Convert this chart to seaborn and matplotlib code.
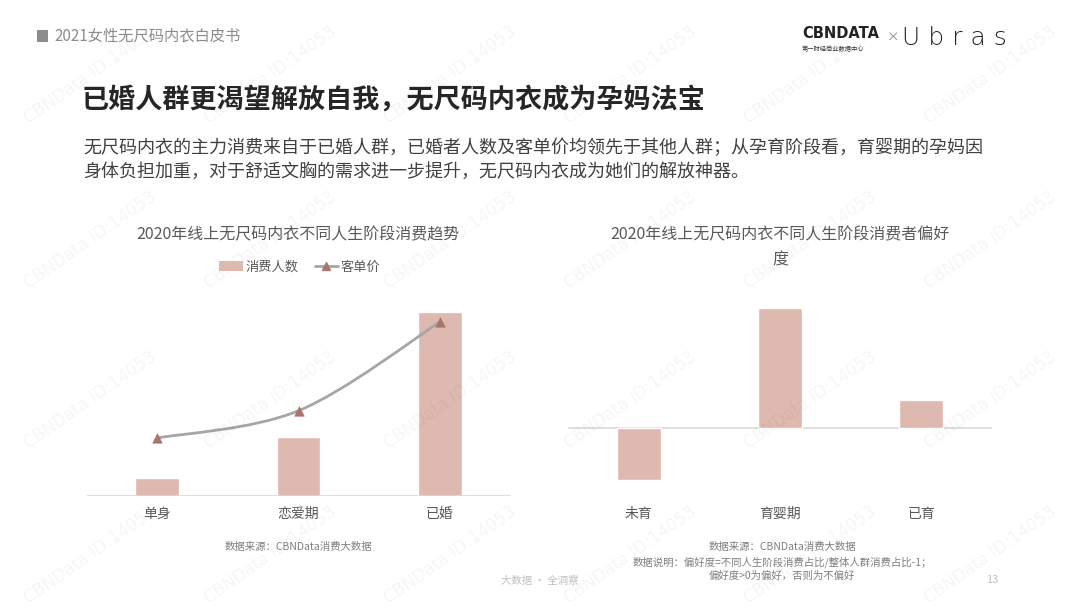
import numpy as np
import pandas as pd
import matplotlib
matplotlib.use("Agg")
import matplotlib.pyplot as plt
import seaborn as sns
from matplotlib.patches import Rectangle, Patch, PathPatch
from matplotlib.lines import Line2D
from matplotlib.path import Path

# --- data ---
stages_left = ["单身", "恋爱期", "已婚"]
consumers = [0.10, 0.32, 1.00]        # 消费人数 (relative)
unit_price = [1.00, 1.47, 3.00]       # 客单价 (relative)

stages_right = ["未育", "育婴期", "已育"]
preference = [-0.26, 0.60, 0.14]      # 偏好度

BAR = "#DEB9AF"
LINE = "#A6A6A6"
MARK = "#A9766D"
TXT = "#595959"

sns.set_theme(style="white")
plt.rcParams['font.family'] = ['Noto Sans CJK SC', 'DejaVu Sans']

W, H = 1080, 608
fig = plt.figure(figsize=(W / 100, H / 100), dpi=100)
fig.patch.set_facecolor("white")

def fx(px): return px / W
def fy(py): return 1 - py / H

# --- watermarks ---
for yy in [75, 240, 400, 555]:
    for xx in [90, 270, 450, 630, 810, 990]:
        fig.text(fx(xx), fy(yy), "CBNData ID:14053", rotation=35, ha="center", va="center",
                 fontsize=12, color="#000000", alpha=0.04, family="DejaVu Sans", zorder=0)

# --- header ---
fig.patches.append(Rectangle((fx(37), fy(42)), fx(11), 12 / H, transform=fig.transFigure,
                             color="#8C8C8C", lw=0))
fig.text(fx(54), fy(36), "2021女性无尺码内衣白皮书", fontsize=11, color="#8C8C8C", va="center")
fig.text(fx(802), fy(33), "CBNDATA", fontsize=10.5, fontweight="bold", color="#222222",
         va="center", family="DejaVu Sans")
fig.text(fx(802), fy(49), "第一财经商业数据中心", fontsize=4.5, color="#333333", va="center")
fig.text(fx(887), fy(38), "×", fontsize=9, color="#888888", va="center")
fig.text(fx(902), fy(38), "U b r a s", fontsize=18, color="#222222", va="center",
         family="DejaVu Sans", fontweight="light")

fig.text(fx(82), fy(100), "已婚人群更渴望解放自我，无尺码内衣成为孕妈法宝", fontsize=19.5,
         fontweight="bold", color="#262626", va="center")
fig.text(fx(83), fy(148), "无尺码内衣的主力消费来自于已婚人群，已婚者人数及客单价均领先于其他人群；从孕育阶段看，育婴期的孕妈因",
         fontsize=13, color="#404040", va="center")
fig.text(fx(83), fy(172), "身体负担加重，对于舒适文胸的需求进一步提升，无尺码内衣成为她们的解放神器。",
         fontsize=13, color="#404040", va="center")

# --- left chart ---
axL = fig.add_axes([fx(86.5), 1 - 496 / H, fx(424), 206 / H])
dfL = pd.DataFrame({"stage": stages_left, "consumers": consumers, "price": unit_price})
sns.barplot(data=dfL, x="stage", y="consumers", color=BAR, width=0.31, saturation=1, ax=axL)
axL.set_ylim(0, max(consumers) * 1.12)
axL.set_xlim(-0.5, 2.5)
axL.axhline(0, color="#D9D9D9", lw=1.2)

axR2 = axL.twinx()
axR2.set_ylim(0, max(unit_price) * 206 / 174)
# smooth line (Catmull-Rom style bezier through the data points)
xs = np.arange(len(unit_price), dtype=float)
ys = np.array(unit_price)
verts = [(xs[0], ys[0])]
codes = [Path.MOVETO]
for i in range(len(xs) - 1):
    p0 = np.array([xs[max(i - 1, 0)], ys[max(i - 1, 0)]])
    p1 = np.array([xs[i], ys[i]])
    p2 = np.array([xs[i + 1], ys[i + 1]])
    p3 = np.array([xs[min(i + 2, len(xs) - 1)], ys[min(i + 2, len(xs) - 1)]])
    c1 = p1 + (p2 - p0) / 6
    c2 = p2 - (p3 - p1) / 6
    verts += [tuple(c1), tuple(c2), tuple(p2)]
    codes += [Path.CURVE4] * 3
axR2.add_patch(PathPatch(Path(verts, codes), fill=False, edgecolor=LINE, lw=2, zorder=3))
sns.scatterplot(x=xs, y=ys, marker="^", s=45, color=MARK, edgecolor=MARK, ax=axR2, zorder=4)

for a in (axL, axR2):
    for s in a.spines.values():
        s.set_visible(False)
    a.set_yticks([])
    a.set_ylabel("")
    a.patch.set_alpha(0)
axL.set_xlabel("")
axL.tick_params(axis="x", length=0, pad=8, labelsize=10, labelcolor=TXT)

fig.text(fx(298), fy(235), "2020年线上无尺码内衣不同人生阶段消费趋势", fontsize=11.5, color=TXT,
         ha="center", va="center")
handles = [Patch(facecolor=BAR, edgecolor="none"),
           Line2D([0], [0], color=LINE, lw=2, marker="^", markersize=6,
                  markerfacecolor=MARK, markeredgecolor=MARK)]
fig.legend(handles, ["消费人数", "客单价"], loc="center", bbox_to_anchor=(fx(300), fy(267)),
           ncol=2, frameon=False, fontsize=9.5, labelcolor=TXT, handlelength=1.8,
           handletextpad=0.2, columnspacing=1.2)
fig.text(fx(298), fy(547), "数据来源：CBNData消费大数据", fontsize=7.5, color="#7F7F7F",
         ha="center", va="center")

# --- right chart ---
axP = fig.add_axes([fx(568), 1 - 496 / H, fx(424), 206 / H])
dfR = pd.DataFrame({"stage": stages_right, "pref": preference})
sns.barplot(data=dfR, x="stage", y="pref", color=BAR, width=0.31, saturation=1, ax=axP)
axP.set_xlim(-0.5, 2.5)
scale = 120 / max(preference)
axP.set_ylim(-(496 - 428) / scale, (428 - 290) / scale)
axP.axhline(0, color="#D9D9D9", lw=1.2, zorder=0)
for s in axP.spines.values():
    s.set_visible(False)
axP.set_yticks([])
axP.set_ylabel("")
axP.set_xlabel("")
axP.patch.set_alpha(0)
axP.tick_params(axis="x", length=0, pad=8, labelsize=10, labelcolor=TXT)

fig.text(fx(780), fy(235), "2020年线上无尺码内衣不同人生阶段消费者偏好", fontsize=11.5, color=TXT,
         ha="center", va="center")
fig.text(fx(780), fy(260), "度", fontsize=11.5, color=TXT, ha="center", va="center")
fig.text(fx(782), fy(547), "数据来源：CBNData消费大数据", fontsize=7.5, color="#7F7F7F",
         ha="center", va="center")
fig.text(fx(782), fy(562), "数据说明：偏好度=不同人生阶段消费占比/整体人群消费占比-1；", fontsize=7.5,
         color="#7F7F7F", ha="center", va="center")
fig.text(fx(782), fy(576), "偏好度>0为偏好，否则为不偏好", fontsize=7.5, color="#7F7F7F",
         ha="center", va="center")

# --- footer ---
fig.text(fx(540), fy(581), "大数据 · 全洞察", fontsize=7.5, color="#BFBFBF", ha="center", va="center")
fig.text(fx(992), fy(580), "13", fontsize=8, color="#BFBFBF", ha="center", va="center")

fig.savefig("out.png", dpi=100)
